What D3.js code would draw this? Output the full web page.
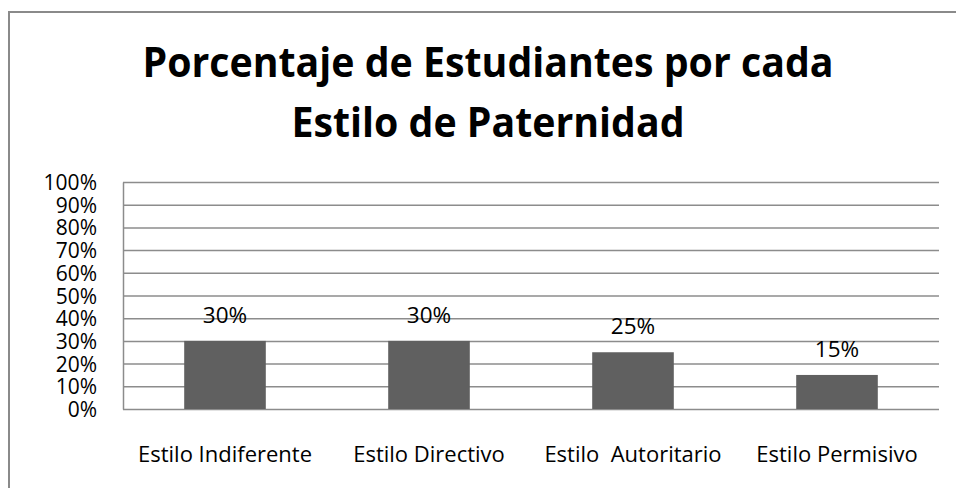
<!DOCTYPE html>
<html>
<head>
<meta charset="utf-8">
<script src="https://cdn.jsdelivr.net/npm/d3@7"></script>
<style>
  body { margin: 0; background: #fff; }
  svg text { font-family: "Open Sans", "Noto Sans", sans-serif; fill: #000; }
</style>
</head>
<body>
<script>
// chart data
var titleLines = ["Porcentaje de Estudiantes por cada", "Estilo de Paternidad"];
var categories = ["Estilo Indiferente", "Estilo Directivo", "Estilo  Autoritario", "Estilo Permisivo"];
var values = [30, 30, 25, 15];
var yTicks = [0, 10, 20, 30, 40, 50, 60, 70, 80, 90, 100];

var width = 956, height = 488;
var plot = {left: 123, right: 939, top: 182, bottom: 409};

var svg = d3.select("body").append("svg")
	.attr("width", width)
	.attr("height", height);

// outer frame (runs off the right and bottom edges)
svg.append("rect")
	.attr("x", 9).attr("y", 12)
	.attr("width", 1000).attr("height", 600)
	.attr("fill", "none")
	.attr("stroke", "#8a8a8a")
	.attr("stroke-width", 2);

// title, squeezed to the narrow width of the original face
var title = svg.append("g");
var t1 = title.append("text")
	.attr("x", 488).attr("y", 77)
	.attr("text-anchor", "middle")
	.attr("font-size", 41)
	.attr("font-weight", "bold")
	.text(titleLines[0]);
var squeeze = 691 / t1.node().getComputedTextLength();
t1.attr("textLength", 691).attr("lengthAdjust", "spacingAndGlyphs");
var t2 = title.append("text")
	.attr("x", 488).attr("y", 137)
	.attr("text-anchor", "middle")
	.attr("font-size", 41)
	.attr("font-weight", "bold")
	.text(titleLines[1]);
t2.attr("textLength", t2.node().getComputedTextLength() * squeeze)
	.attr("lengthAdjust", "spacingAndGlyphs");

// scales
var x = d3.scaleBand()
	.domain(categories)
	.range([plot.left, plot.right])
	.paddingInner(0.6)
	.paddingOuter(0.3);

var y = d3.scaleLinear()
	.domain([0, 100])
	.range([plot.bottom, plot.top]);

// horizontal grid lines
var grid = svg.append("g")
	.attr("transform", "translate(" + plot.left + ",0)")
	.call(d3.axisLeft(y).tickValues(yTicks).tickSize(-(plot.right - plot.left)).tickFormat(""));
grid.select(".domain").remove();
grid.selectAll(".tick line")
	.attr("stroke", "#8c8c8c")
	.attr("stroke-width", 1.5);

// left axis line and labels
var yAxis = svg.append("g")
	.attr("transform", "translate(" + plot.left + ",0)")
	.call(d3.axisLeft(y).tickValues(yTicks).tickSize(0).tickPadding(26)
		.tickFormat(function(d) { return d + "%"; }));
yAxis.select(".domain")
	.attr("stroke", "#8c8c8c")
	.attr("stroke-width", 1.5);
yAxis.selectAll(".tick text")
	.attr("font-size", 21)
	.attr("dy", "0.36em");

// bars
svg.append("g").selectAll("rect")
	.data(values)
	.enter().append("rect")
		.attr("x", function(d, i) { return x(categories[i]); })
		.attr("y", function(d) { return y(d); })
		.attr("width", x.bandwidth())
		.attr("height", function(d) { return y(0) - y(d); })
		.attr("fill", "#606060");

// value labels
svg.append("g").selectAll("text")
	.data(values)
	.enter().append("text")
		.attr("x", function(d, i) { return x(categories[i]) + x.bandwidth() / 2; })
		.attr("y", function(d) { return y(d) - 18; })
		.attr("text-anchor", "middle")
		.attr("font-size", 22.5)
		.text(function(d) { return d + "%"; });

// category labels
svg.append("g").selectAll("text")
	.data(categories)
	.enter().append("text")
		.attr("x", function(d) { return x(d) + x.bandwidth() / 2; })
		.attr("y", 462)
		.attr("text-anchor", "middle")
		.attr("font-size", 22)
		.style("white-space", "pre")
		.text(function(d) { return d; });
</script>
</body>
</html>
